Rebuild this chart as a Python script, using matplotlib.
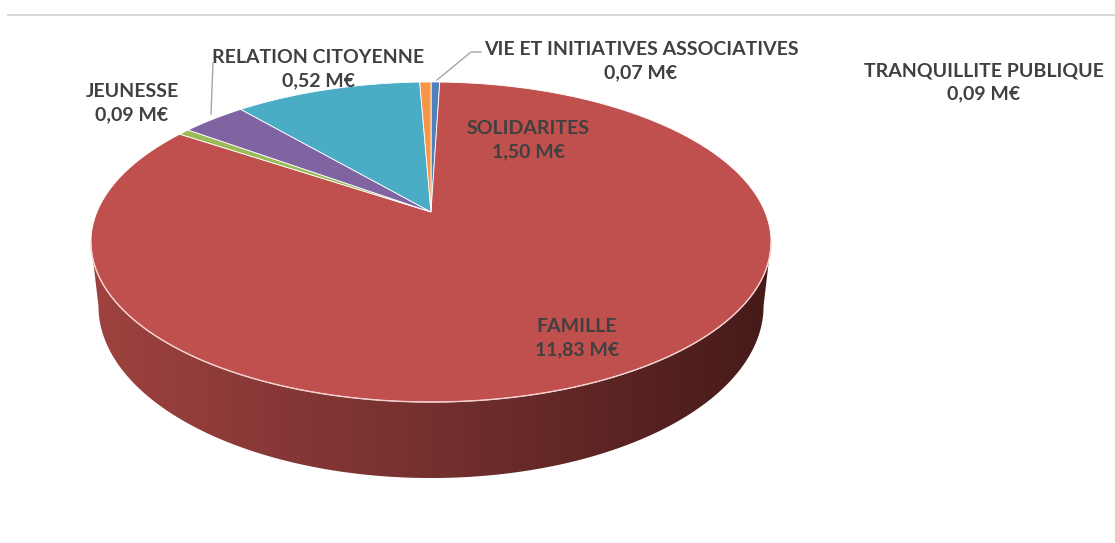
import numpy as np
import matplotlib
matplotlib.use("Agg")
import matplotlib.pyplot as plt
from matplotlib.colors import LinearSegmentedColormap
from matplotlib.patches import Polygon

# slices in Excel order, clockwise from 12 o'clock
labels = ["VIE ET INITIATIVES ASSOCIATIVES", "FAMILLE", "JEUNESSE",
          "RELATION CITOYENNE", "SOLIDARITES", "TRANQUILLITE PUBLIQUE"]
values = [0.07, 11.83, 0.09, 0.52, 1.50, 0.09]
colors = ["#4F81BD", "#C0504D", "#9BBB59", "#8064A2", "#4BACC6", "#F79646"]

# label anchors (pixels) and leader lines
label_pos = [(641, 61), (577, 338), (132, 103), (318, 69), (528, 140), (984, 82)]
leaders = {
    "VIE ET INITIATIVES ASSOCIATIVES": [(481, 52), (471, 52), (437, 80)],
    "RELATION CITOYENNE": [(213, 63), (211, 114)],
}

W, H = 1115, 543
fig = plt.figure(figsize=(W / 100, H / 100), dpi=100)
ax = fig.add_axes([0, 0, 1, 1])
ax.set_xlim(0, W)
ax.set_ylim(H, 0)
ax.axis("off")

# pie geometry (perspective projection of a disk)
cx, cy = 431, 212
R, R2 = 334, 154.4
k = 0.1875
depth = 61.75
shrink = 0.978


def proj(t, bottom=False):
    x, y = np.cos(t), np.sin(t)
    w = 1 + k * y
    u = R * x / w
    v = -R2 * y / w
    if bottom:
        u = u * shrink
        v = v + depth / w
    return cx + u, cy + v


# top line of chart frame
ax.plot([7, W], [15, 15], color="#D9D9D9", lw=1.5, solid_capstyle="butt")

vals = np.array(values)
angles = np.cumsum(np.concatenate([[0], vals / vals.sum() * 2 * np.pi]))
t0 = np.pi / 2

# side wall (only front half visible)
t_left = np.pi + np.arcsin(k)
t_right = 2 * np.pi - np.arcsin(k)
cmap = LinearSegmentedColormap.from_list("side", ["#9E423F", "#74302E", "#461A1A"])
for i in range(len(values)):
    lo = t0 - angles[i + 1]
    hi = t0 - angles[i]
    segs = []
    for shift in (-2 * np.pi, 0, 2 * np.pi):
        s = max(lo + shift, t_left)
        e = min(hi + shift, t_right)
        if e > s:
            segs.append((s, e))
    for s, e in segs:
        ts = np.linspace(s, e, 300)
        xt, yt = proj(ts)
        xb, yb = proj(ts[::-1], bottom=True)
        poly = Polygon(np.column_stack([np.r_[xt, xb], np.r_[yt, yb]]),
                       closed=True, facecolor="none", edgecolor="none")
        ax.add_patch(poly)
        grad = np.linspace(0, 1, 256).reshape(1, -1)
        x_min, x_max = proj(t_left)[0], proj(t_right)[0]
        im = ax.imshow(grad, cmap=cmap, aspect="auto",
                       extent=[x_min, x_max, cy + 2 * R2, cy - 10], zorder=1)
        im.set_clip_path(poly)

# top faces
for i in range(len(values)):
    ts = np.linspace(t0 - angles[i], t0 - angles[i + 1], 400)
    xs, ys = proj(ts)
    pts = np.column_stack([np.r_[cx, xs], np.r_[cy, ys]])
    ax.add_patch(Polygon(pts, closed=True, facecolor=colors[i],
                         edgecolor="white", lw=0.6, zorder=2))

# light rim on the front edge
ts = np.linspace(t_left, t_right, 400)
xs, ys = proj(ts)
ax.plot(xs, ys, color="#F4D0CE", lw=1.0, zorder=3)

# labels
for name, val, (x, y) in zip(labels, values, label_pos):
    txt = f"{name}\n{val:.2f} M€".replace(".", ",")
    ax.text(x, y, txt, ha="center", va="center", fontsize=14,
            fontfamily="Lato", fontweight="bold", color="#404040",
            linespacing=1.4, zorder=5)
    if name in leaders:
        lx, ly = zip(*leaders[name])
        ax.plot(lx, ly, color="#A6A6A6", lw=1, zorder=4)

fig.savefig("out.png", dpi=100)
